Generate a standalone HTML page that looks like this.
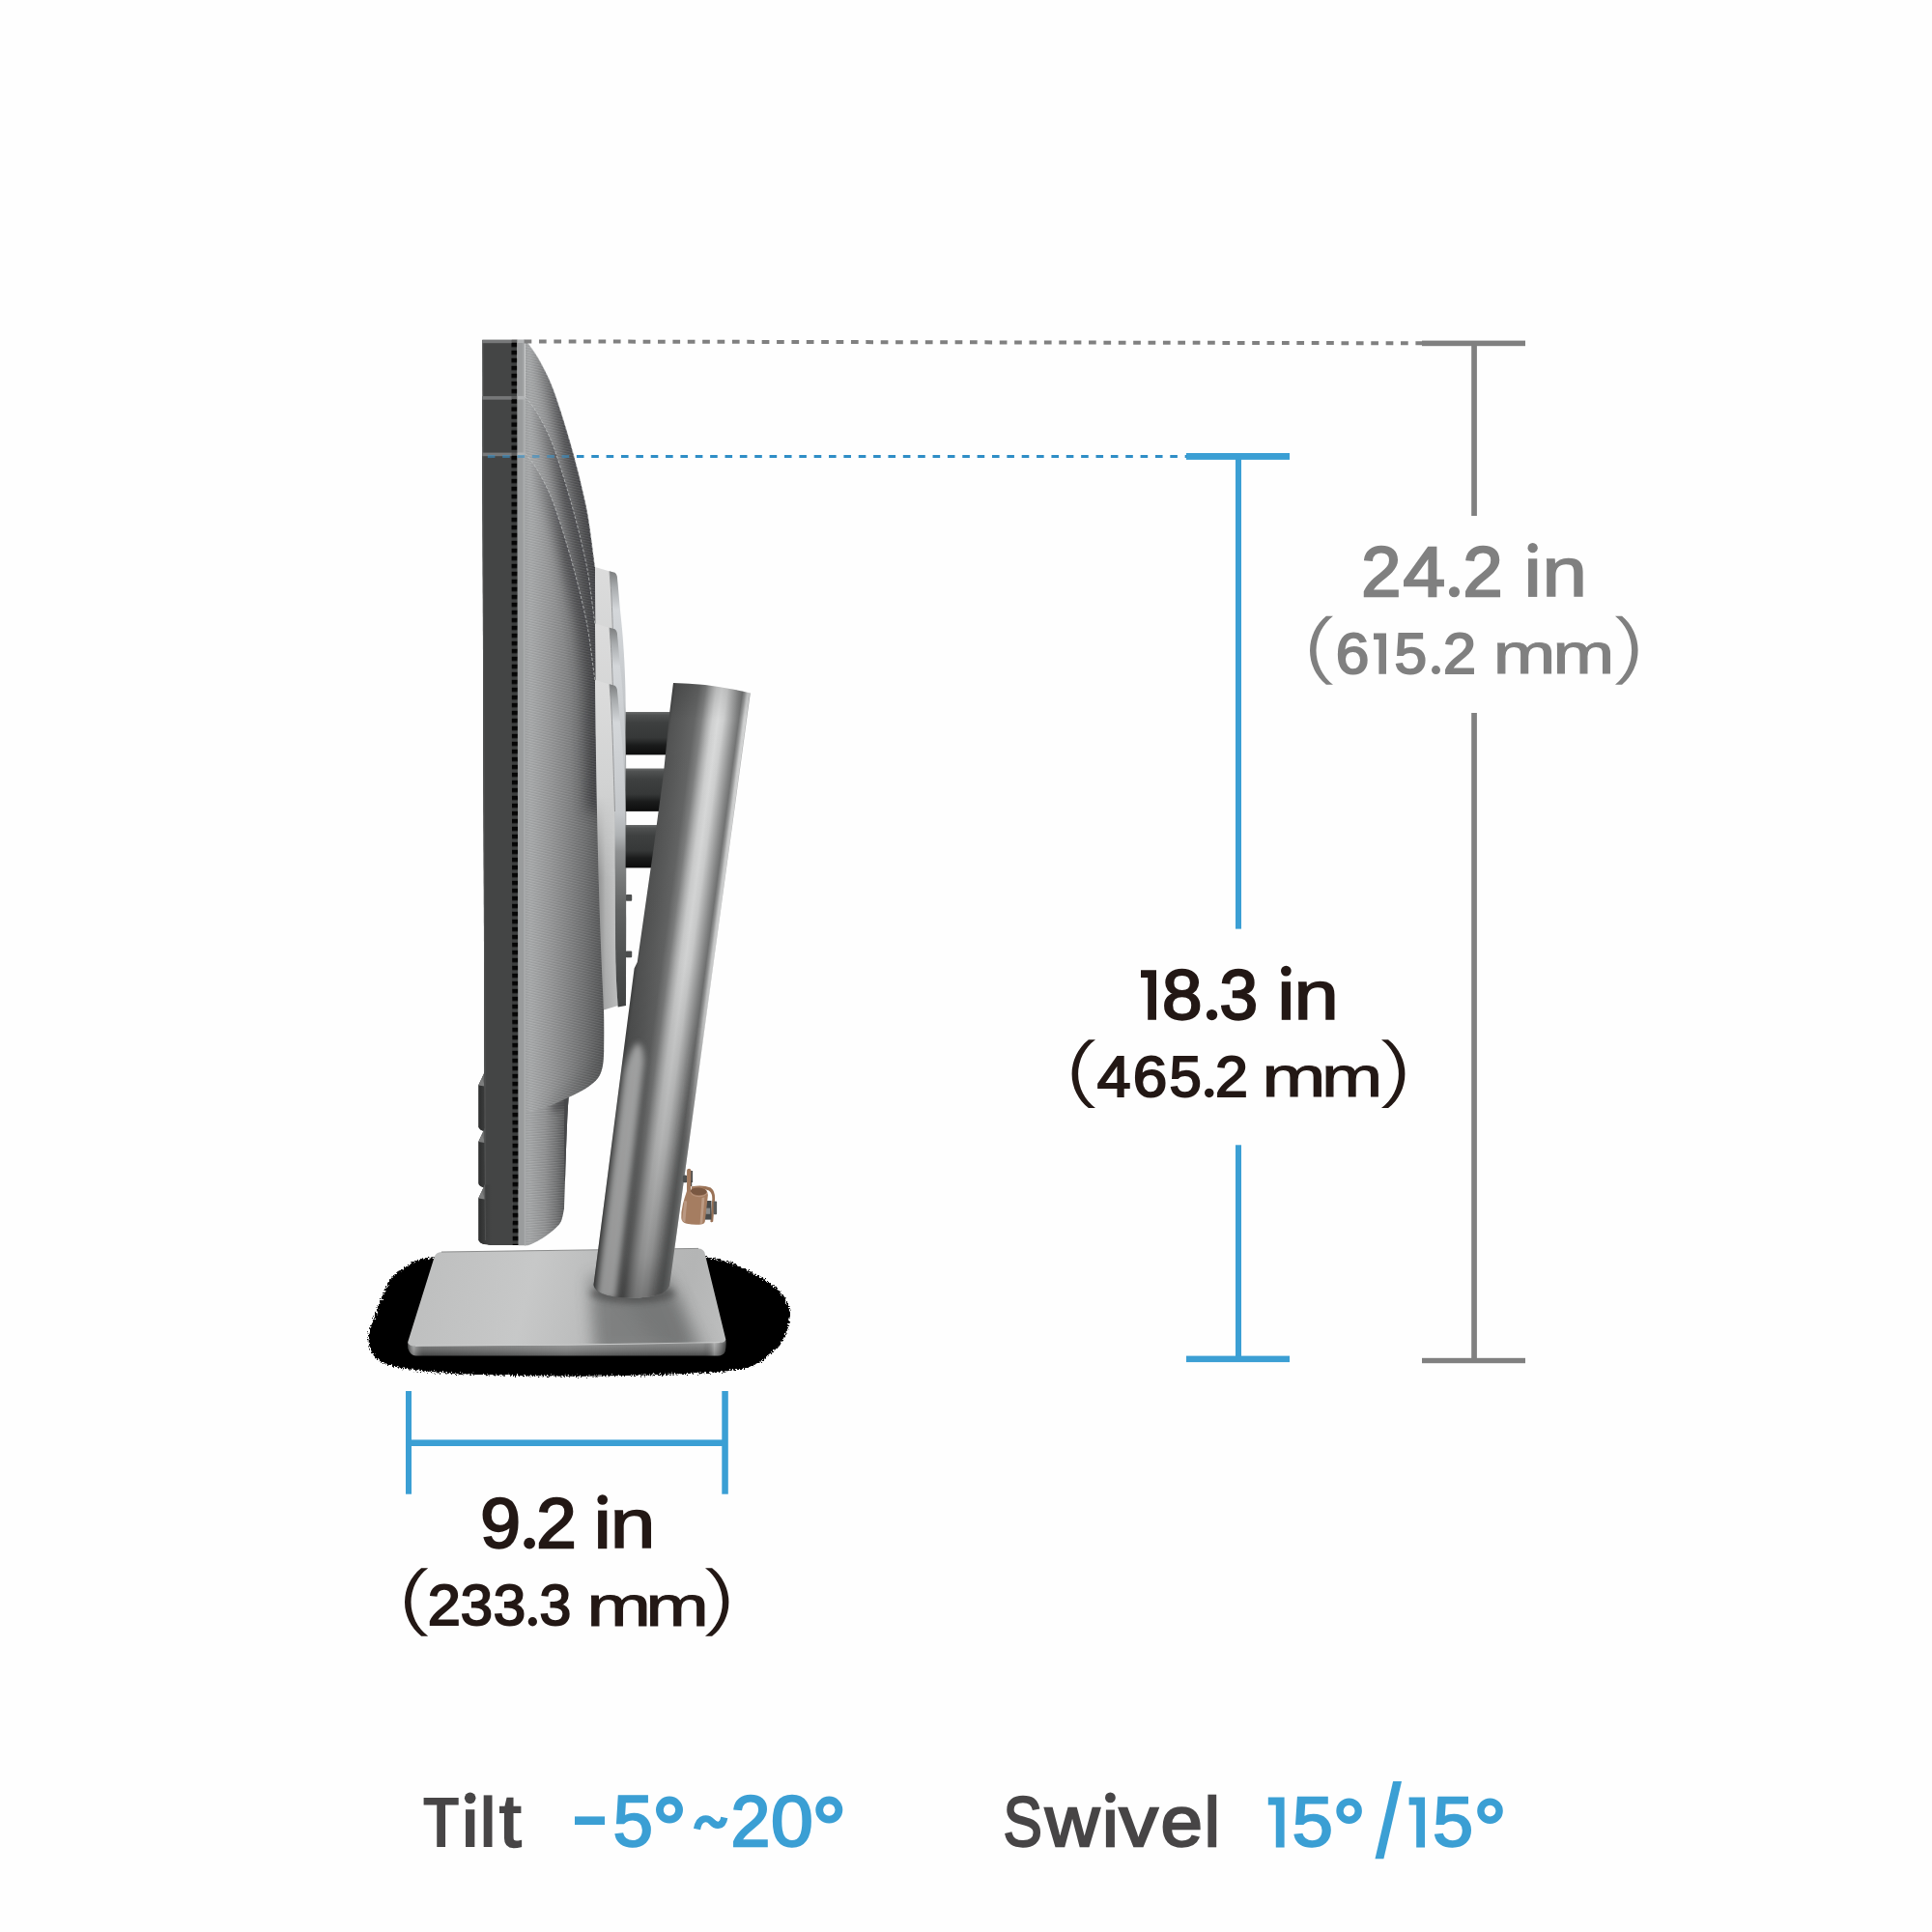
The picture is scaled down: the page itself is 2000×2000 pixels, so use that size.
<!DOCTYPE html>
<html><head><meta charset="utf-8">
<style>
html,body{margin:0;padding:0;background:#fefefe;}
body{width:2000px;height:2000px;overflow:hidden;font-family:"Liberation Sans",sans-serif;}
svg{display:block;position:absolute;left:0;top:0;}
text{font-family:"Liberation Sans",sans-serif;}
</style></head>
<body>
<svg width="2000" height="2000" viewBox="0 0 2000 2000">
<defs>
<!--DEFS_START-->

<linearGradient id="gBody" gradientUnits="userSpaceOnUse" x1="544" y1="0" x2="626" y2="0">
 <stop offset="0" stop-color="#a2a4a5"/><stop offset="0.06" stop-color="#a7a9aa"/><stop offset="0.3" stop-color="#969798"/><stop offset="0.55" stop-color="#808182"/><stop offset="0.75" stop-color="#6d6e6f"/><stop offset="0.9" stop-color="#5c5d5e"/><stop offset="1" stop-color="#505152"/>
</linearGradient>
<linearGradient id="gCovLH" gradientUnits="userSpaceOnUse" x1="616" y1="0" x2="640" y2="0">
 <stop offset="0" stop-color="#000" stop-opacity="0.34"/><stop offset="0.45" stop-color="#000" stop-opacity="0.08"/><stop offset="1" stop-color="#fff" stop-opacity="0.08"/>
</linearGradient>
<linearGradient id="gCovMaskV" gradientUnits="userSpaceOnUse" x1="0" y1="704" x2="0" y2="1046">
 <stop offset="0" stop-color="#000"/><stop offset="0.35" stop-color="#000"/><stop offset="0.6" stop-color="#000" stop-opacity="0"/><stop offset="1" stop-color="#000" stop-opacity="0"/>
</linearGradient>
<linearGradient id="gCovLV" gradientUnits="userSpaceOnUse" x1="0" y1="704" x2="0" y2="1046">
 <stop offset="0" stop-color="#fff" stop-opacity="1"/><stop offset="0.35" stop-color="#fff" stop-opacity="0.9"/><stop offset="0.55" stop-color="#fff" stop-opacity="0"/><stop offset="1" stop-color="#fff" stop-opacity="0"/>
</linearGradient>
<linearGradient id="gNeckF" gradientUnits="userSpaceOnUse" x1="544" y1="0" x2="589" y2="0">
 <stop offset="0" stop-color="#a2a4a5"/><stop offset="0.1" stop-color="#a4a6a7"/><stop offset="0.45" stop-color="#909192"/><stop offset="0.7" stop-color="#747576"/><stop offset="0.9" stop-color="#565758"/><stop offset="1" stop-color="#464748"/>
</linearGradient>
<pattern id="pTex2" patternUnits="userSpaceOnUse" width="8" height="2.6" patternTransform="rotate(-4)">
 <rect width="8" height="1.1" y="0" fill="#fff" opacity="0.09"/><rect width="8" height="1.1" y="1.4" fill="#000" opacity="0.06"/>
</pattern>
<linearGradient id="gNeck" gradientUnits="userSpaceOnUse" x1="544" y1="0" x2="589" y2="0">
 <stop offset="0" stop-color="#a0a2a3" stop-opacity="0"/><stop offset="0.45" stop-color="#8e8f90" stop-opacity="0.3"/><stop offset="0.8" stop-color="#6a6b6c" stop-opacity="0.9"/><stop offset="1" stop-color="#505152"/>
</linearGradient>
<pattern id="pTex" patternUnits="userSpaceOnUse" width="8" height="2.6" patternTransform="rotate(13)">
 <rect width="8" height="1.1" y="0" fill="#fff" opacity="0.09"/><rect width="8" height="1.1" y="1.4" fill="#000" opacity="0.06"/>
</pattern>
<pattern id="pDash" patternUnits="userSpaceOnUse" width="6" height="8">
 <rect width="6" height="8" fill="#050505"/><rect width="6" height="3.6" y="4.2" fill="#3d3f3f"/>
</pattern>
<linearGradient id="gArm" x1="0" y1="0" x2="0" y2="1">
 <stop offset="0" stop-color="#6a6c6c"/><stop offset="0.07" stop-color="#505252"/><stop offset="0.25" stop-color="#3e4040"/><stop offset="0.6" stop-color="#363838"/><stop offset="0.78" stop-color="#1a1b1b"/><stop offset="1" stop-color="#0c0c0c"/>
</linearGradient>
<linearGradient id="gCovL" gradientUnits="userSpaceOnUse" x1="0" y1="704" x2="0" y2="1046">
 <stop offset="0" stop-color="#dcdcdc"/><stop offset="0.3" stop-color="#d2d3d3"/><stop offset="0.6" stop-color="#c4c5c5"/><stop offset="1" stop-color="#b6b7b7"/>
</linearGradient>
<linearGradient id="gCovR" gradientUnits="userSpaceOnUse" x1="0" y1="708" x2="0" y2="1042">
 <stop offset="0" stop-color="#7c7e7f"/><stop offset="0.05" stop-color="#a8abad"/><stop offset="0.12" stop-color="#d4d7da"/><stop offset="0.4" stop-color="#c4c7ca"/><stop offset="0.47" stop-color="#aeb1b3"/><stop offset="0.52" stop-color="#8e9091"/><stop offset="0.6" stop-color="#787a7a"/><stop offset="0.7" stop-color="#606262"/><stop offset="0.89" stop-color="#4a4c4c"/><stop offset="1" stop-color="#404242"/>
</linearGradient>
<linearGradient id="gChin" x1="0" y1="0" x2="1" y2="0">
 <stop offset="0" stop-color="#2c2d2d"/><stop offset="0.5" stop-color="#3c3d3d"/><stop offset="1" stop-color="#444545"/>
</linearGradient>
<filter id="fBlur6" x="-50%" y="-10%" width="200%" height="120%"><feGaussianBlur stdDeviation="7"/></filter>
<filter id="fBlur3" x="-50%" y="-50%" width="200%" height="200%"><feGaussianBlur stdDeviation="3"/></filter>
<mask id="mCovLow" maskUnits="userSpaceOnUse" x="600" y="700" width="60" height="360"><rect x="600" y="700" width="60" height="360" fill="#fff"/><rect x="600" y="700" width="60" height="360" fill="#000" opacity="1" style="fill:url(#gCovMaskV)"/></mask>
<linearGradient id="gEdgeM" gradientUnits="userSpaceOnUse" x1="548" y1="0" x2="584" y2="0"><stop offset="0" stop-color="#fff" stop-opacity="0"/><stop offset="1" stop-color="#fff" stop-opacity="1"/></linearGradient>
<mask id="mEdge" maskUnits="userSpaceOnUse" x="500" y="300" width="200" height="1100"><rect x="500" y="300" width="200" height="1100" fill="url(#gEdgeM)"/></mask>
<clipPath id="cBody"><path d="M543.5,469.6 C543.9,470.0 543.8,468.9 546.0,471.8 C548.2,474.7 553.1,481.2 556.6,487.0 C560.1,492.8 564.3,501.0 567.0,506.7 C569.7,512.4 570.9,515.5 573.0,521.0 C575.1,526.5 576.9,532.2 579.4,539.8 C581.9,547.4 585.3,558.6 587.7,566.7 C590.1,574.8 591.9,581.0 593.9,588.5 C595.9,596.0 598.0,603.8 600.0,612.0 C602.0,620.2 604.4,630.5 606.0,638.0 C607.6,645.5 608.5,650.5 609.5,657.0 C610.5,663.5 611.2,669.2 612.3,677.0 C613.3,684.8 615.2,699.5 615.8,704.0 L616,704 C616.1,715.0 616.5,747.3 616.8,770.0 C617.1,792.7 617.5,815.0 618.0,840.0 C618.5,865.0 619.3,895.2 620.0,920.0 C620.7,944.8 621.6,968.2 622.4,989.0 C623.2,1009.8 624.5,1028.5 625.0,1045.0 C625.5,1061.5 625.2,1080.8 625.2,1088.0 C625.0,1090.5 625.0,1098.3 624.0,1103.0 C623.0,1107.7 622.0,1112.0 619.0,1116.0 C616.0,1120.0 611.0,1123.7 606.0,1127.0 C601.0,1130.3 594.7,1133.0 589.0,1135.8 C583.3,1138.5 577.5,1141.3 572.0,1143.5 C566.5,1145.7 560.8,1147.7 556.0,1149.0 C551.2,1150.3 545.6,1151.1 543.5,1151.5 Z"/></clipPath>
<clipPath id="cNeck"><path d="M543.5,1120 L588.8,1120 L588.6,1136 C588.3,1140.8 587.6,1151.8 587.0,1165.0 C586.4,1178.2 585.7,1200.7 585.2,1215.0 C584.7,1229.3 584.2,1245.0 584.0,1251.0 C583.5,1253.2 582.5,1260.6 581.0,1264.0 C579.5,1267.4 577.3,1269.2 575.0,1271.5 C572.7,1273.8 570.0,1275.8 567.0,1278.0 C564.0,1280.2 560.2,1282.7 557.0,1284.5 C553.8,1286.3 550.1,1287.9 548.0,1288.7 C545.9,1289.5 544.9,1289.1 544.3,1289.2 L543.5,1289.2 Z"/></clipPath>
<g id="mon">
 <!-- neck -->
 <path d="M543.5,1120 L588.8,1120 L588.6,1136 C588.3,1140.8 587.6,1151.8 587.0,1165.0 C586.4,1178.2 585.7,1200.7 585.2,1215.0 C584.7,1229.3 584.2,1245.0 584.0,1251.0 C583.5,1253.2 582.5,1260.6 581.0,1264.0 C579.5,1267.4 577.3,1269.2 575.0,1271.5 C572.7,1273.8 570.0,1275.8 567.0,1278.0 C564.0,1280.2 560.2,1282.7 557.0,1284.5 C553.8,1286.3 550.1,1287.9 548.0,1288.7 C545.9,1289.5 544.9,1289.1 544.3,1289.2 L543.5,1289.2 Z" fill="url(#gNeckF)"/>
 <g clip-path="url(#cNeck)">
  <path d="M543.5,1120 L588.8,1120 L588.6,1136 C588.3,1140.8 587.6,1151.8 587.0,1165.0 C586.4,1178.2 585.7,1200.7 585.2,1215.0 C584.7,1229.3 584.2,1245.0 584.0,1251.0 C583.5,1253.2 582.5,1260.6 581.0,1264.0 C579.5,1267.4 577.3,1269.2 575.0,1271.5 C572.7,1273.8 570.0,1275.8 567.0,1278.0 C564.0,1280.2 560.2,1282.7 557.0,1284.5 C553.8,1286.3 550.1,1287.9 548.0,1288.7 C545.9,1289.5 544.9,1289.1 544.3,1289.2 L543.5,1289.2 Z" fill="url(#pTex2)"/>
  <path d="M606,1131 C603.2,1132.5 594.7,1137.0 589.0,1139.8 C583.3,1142.5 574.8,1146.2 572.0,1147.5" fill="none" stroke="#38393a" stroke-width="9" opacity="0.5" filter="url(#fBlur3)"/>
  <path d="M589.2,1136 L588,1165 L586.2,1222 L584.4,1222 L584,1165 L584.4,1136 Z" fill="#47484a"/>
 </g>
 <!-- back body -->
 <path d="M543.5,469.6 C543.9,470.0 543.8,468.9 546.0,471.8 C548.2,474.7 553.1,481.2 556.6,487.0 C560.1,492.8 564.3,501.0 567.0,506.7 C569.7,512.4 570.9,515.5 573.0,521.0 C575.1,526.5 576.9,532.2 579.4,539.8 C581.9,547.4 585.3,558.6 587.7,566.7 C590.1,574.8 591.9,581.0 593.9,588.5 C595.9,596.0 598.0,603.8 600.0,612.0 C602.0,620.2 604.4,630.5 606.0,638.0 C607.6,645.5 608.5,650.5 609.5,657.0 C610.5,663.5 611.2,669.2 612.3,677.0 C613.3,684.8 615.2,699.5 615.8,704.0 L616,704 C616.1,715.0 616.5,747.3 616.8,770.0 C617.1,792.7 617.5,815.0 618.0,840.0 C618.5,865.0 619.3,895.2 620.0,920.0 C620.7,944.8 621.6,968.2 622.4,989.0 C623.2,1009.8 624.5,1028.5 625.0,1045.0 C625.5,1061.5 625.2,1080.8 625.2,1088.0 C625.0,1090.5 625.0,1098.3 624.0,1103.0 C623.0,1107.7 622.0,1112.0 619.0,1116.0 C616.0,1120.0 611.0,1123.7 606.0,1127.0 C601.0,1130.3 594.7,1133.0 589.0,1135.8 C583.3,1138.5 577.5,1141.3 572.0,1143.5 C566.5,1145.7 560.8,1147.7 556.0,1149.0 C551.2,1150.3 545.6,1151.1 543.5,1151.5 Z" fill="url(#gBody)"/>
 <g clip-path="url(#cBody)">
  <g mask="url(#mEdge)"><path d="M543.5,469.6 C543.9,470.0 543.8,468.9 546.0,471.8 C548.2,474.7 553.1,481.2 556.6,487.0 C560.1,492.8 564.3,501.0 567.0,506.7 C569.7,512.4 570.9,515.5 573.0,521.0 C575.1,526.5 576.9,532.2 579.4,539.8 C581.9,547.4 585.3,558.6 587.7,566.7 C590.1,574.8 591.9,581.0 593.9,588.5 C595.9,596.0 598.0,603.8 600.0,612.0 C602.0,620.2 604.4,630.5 606.0,638.0 C607.6,645.5 608.5,650.5 609.5,657.0 C610.5,663.5 611.2,669.2 612.3,677.0 C613.3,684.8 615.2,699.5 615.8,704.0 L616,704 L618,840" fill="none" stroke="#353637" stroke-width="22" opacity="0.72" filter="url(#fBlur6)"/></g>
  <path d="M628,1088 L628,1150 L560,1150 Z" fill="#4a4b4c" opacity="0.25" filter="url(#fBlur6)"/>
  <path d="M543.5,469.6 C543.9,470.0 543.8,468.9 546.0,471.8 C548.2,474.7 553.1,481.2 556.6,487.0 C560.1,492.8 564.3,501.0 567.0,506.7 C569.7,512.4 570.9,515.5 573.0,521.0 C575.1,526.5 576.9,532.2 579.4,539.8 C581.9,547.4 585.3,558.6 587.7,566.7 C590.1,574.8 591.9,581.0 593.9,588.5 C595.9,596.0 598.0,603.8 600.0,612.0 C602.0,620.2 604.4,630.5 606.0,638.0 C607.6,645.5 608.5,650.5 609.5,657.0 C610.5,663.5 611.2,669.2 612.3,677.0 C613.3,684.8 615.2,699.5 615.8,704.0 L616,704 C616.1,715.0 616.5,747.3 616.8,770.0 C617.1,792.7 617.5,815.0 618.0,840.0 C618.5,865.0 619.3,895.2 620.0,920.0 C620.7,944.8 621.6,968.2 622.4,989.0 C623.2,1009.8 624.5,1028.5 625.0,1045.0 C625.5,1061.5 625.2,1080.8 625.2,1088.0 C625.0,1090.5 625.0,1098.3 624.0,1103.0 C623.0,1107.7 622.0,1112.0 619.0,1116.0 C616.0,1120.0 611.0,1123.7 606.0,1127.0 C601.0,1130.3 594.7,1133.0 589.0,1135.8 C583.3,1138.5 577.5,1141.3 572.0,1143.5 C566.5,1145.7 560.8,1147.7 556.0,1149.0 C551.2,1150.3 545.6,1151.1 543.5,1151.5 Z" fill="url(#pTex)"/>
 </g>
 <!-- thin light outline of curve -->
 <path d="M543.5,469.6 C543.9,470.0 543.8,468.9 546.0,471.8 C548.2,474.7 553.1,481.2 556.6,487.0 C560.1,492.8 564.3,501.0 567.0,506.7 C569.7,512.4 570.9,515.5 573.0,521.0 C575.1,526.5 576.9,532.2 579.4,539.8 C581.9,547.4 585.3,558.6 587.7,566.7 C590.1,574.8 591.9,581.0 593.9,588.5 C595.9,596.0 598.0,603.8 600.0,612.0 C602.0,620.2 604.4,630.5 606.0,638.0 C607.6,645.5 608.5,650.5 609.5,657.0 C610.5,663.5 611.2,669.2 612.3,677.0 C613.3,684.8 615.2,699.5 615.8,704.0" fill="none" stroke="#c9cccd" stroke-width="0.9" stroke-dasharray="3 2" opacity="0.75"/>
 <!-- hinge cover -->
 <path d="M616,704 L629.7,708 L631,708.6 C631.4,713.8 632.5,726.4 633.2,740.0 C633.9,753.6 634.5,773.3 635.0,790.0 C635.5,806.7 636.2,820.7 636.5,840.0 C636.8,859.3 636.6,879.3 636.8,906.0 C637.0,932.7 637.0,977.5 637.5,1000.0 C638.0,1022.5 639.3,1034.2 639.7,1041.0 L625,1045.5 C624.6,1036.1 623.2,1009.9 622.4,989.0 C621.6,968.1 620.7,944.8 620.0,920.0 C619.3,895.2 618.5,865.0 618.0,840.0 C617.5,815.0 617.1,792.7 616.8,770.0 C616.5,747.3 616.1,715.0 616.0,704.0 Z" fill="url(#gCovL)"/>
 <path d="M616,704 L629.7,708 L631,708.6 C631.4,713.8 632.5,726.4 633.2,740.0 C633.9,753.6 634.5,773.3 635.0,790.0 C635.5,806.7 636.2,820.7 636.5,840.0 C636.8,859.3 636.6,879.3 636.8,906.0 C637.0,932.7 637.0,977.5 637.5,1000.0 C638.0,1022.5 639.3,1034.2 639.7,1041.0 L625,1045.5 C624.6,1036.1 623.2,1009.9 622.4,989.0 C621.6,968.1 620.7,944.8 620.0,920.0 C619.3,895.2 618.5,865.0 618.0,840.0 C617.5,815.0 617.1,792.7 616.8,770.0 C616.5,747.3 616.1,715.0 616.0,704.0 Z" fill="url(#gCovLH)" mask="url(#mCovLow)"/>
 <path d="M630,708 L636.5,709.8 C636.9,710.3 638.1,711.2 638.6,713.0 C639.1,714.8 638.9,714.6 639.5,720.5 C640.1,726.4 641.1,739.1 642.0,748.4 C642.9,757.7 643.9,765.9 644.7,776.4 C645.5,786.9 646.3,798.8 646.8,811.6 C647.3,824.4 647.6,829.9 647.8,853.0 C648.0,876.1 648.2,918.7 648.2,950.0 C648.2,981.3 648.0,1025.8 648.0,1041.0 L639.7,1042.6 C639.3,1034.2 638.0,1022.5 637.5,1000.0 C637.0,977.5 637.0,932.7 636.8,906.0 C636.6,879.3 636.8,859.3 636.5,840.0 C636.2,820.7 635.5,806.7 635.0,790.0 C634.5,773.3 633.9,753.6 633.2,740.0 C632.5,726.4 631.4,713.8 631.0,708.6 Z" fill="url(#gCovR)"/>
 <path d="M631,708.6 C631.4,713.8 632.5,726.4 633.2,740.0 C633.9,753.6 634.5,773.3 635.0,790.0 C635.5,806.7 636.2,831.7 636.5,840.0" fill="none" stroke="#8a8c8d" stroke-width="0.8"/>
 <!-- screw -->
 <rect x="647.8" y="984.6" width="6.4" height="6.6" rx="1" fill="#4c4e4e"/>
 <!-- arm -->
 <rect x="647.6" y="854" width="60" height="44.4" fill="url(#gArm)"/>
 <!-- front panel -->
 <g>
  <path d="M499.3,469 H530 L531,1289 H507.5 Q502.3,1288.5 502,1283 Z" fill="#444545"/>
  <path d="M499.9,469 L502.6,1284" stroke="#525353" stroke-width="1.1" fill="none"/>
  <g transform="translate(-1.95,0) skewX(0.0917)">
  <rect x="530.6" y="469" width="6.1" height="820" fill="url(#pDash)"/>
  <rect x="536.6" y="469" width="7.6" height="820.2" fill="#9a9c9d"/>
  <rect x="542.6" y="469" width="1.7" height="820.2" fill="#a9abac"/>
  <rect x="530.8" y="468.6" width="6" height="3" fill="#5c5d5d"/>
  <rect x="536.6" y="468.6" width="7.7" height="3.4" fill="#b2b4b5"/>
  </g>
  <rect x="499.3" y="468.6" width="30.4" height="3.6" fill="#777879"/>
  <!-- chin -->
  <path d="M501.9,1226.4 L495.2,1240.5 L495.2,1283.5 Q496,1286.5 501,1288 L509,1289 L509,1226.4 Z" fill="url(#gChin)"/>
  <path d="M501.9,1226.4 L495.2,1240.5 L501.9,1241.5 Z" fill="#7c7d7d"/>
  <path d="M501.9,1226.4 L498.9,1233 L501.9,1241.5 Z" fill="#6a6b6b"/>
  <path d="M501.9,1226.4 L502.6,1284" stroke="#505151" stroke-width="1" fill="none"/>
 </g>
</g>


<linearGradient id="gPole" gradientUnits="userSpaceOnUse" x1="657.8" y1="1000.0" x2="737.6" y2="1010.7">
 <stop offset="0" stop-color="#454646"/><stop offset="0.04" stop-color="#525353"/><stop offset="0.2" stop-color="#5b5c5c"/><stop offset="0.33" stop-color="#646565"/><stop offset="0.42" stop-color="#7e7f7f"/><stop offset="0.5" stop-color="#b0b1b1"/><stop offset="0.56" stop-color="#cecfcf"/><stop offset="0.63" stop-color="#d9dada"/><stop offset="0.7" stop-color="#cecfcf"/><stop offset="0.78" stop-color="#a8a9a9"/><stop offset="0.85" stop-color="#868787"/><stop offset="0.895" stop-color="#737474"/><stop offset="0.93" stop-color="#9a9b9b"/><stop offset="0.96" stop-color="#cbcccc"/><stop offset="0.985" stop-color="#d4d5d5"/><stop offset="1" stop-color="#a0a1a1"/>
</linearGradient>
<linearGradient id="gPoleV" gradientUnits="userSpaceOnUse" x1="0" y1="707" x2="0" y2="1344">
 <stop offset="0" stop-color="#000" stop-opacity="0.12"/><stop offset="0.06" stop-color="#000" stop-opacity="0"/><stop offset="0.45" stop-color="#000" stop-opacity="0.04"/><stop offset="0.75" stop-color="#000" stop-opacity="0.18"/><stop offset="0.93" stop-color="#000" stop-opacity="0.32"/><stop offset="1" stop-color="#000" stop-opacity="0.45"/>
</linearGradient>
<linearGradient id="gPoleRE" gradientUnits="userSpaceOnUse" x1="0" y1="1060" x2="0" y2="1180">
 <stop offset="0" stop-color="#505151" stop-opacity="0"/><stop offset="1" stop-color="#505151" stop-opacity="0.75"/>
</linearGradient>
<linearGradient id="gBaseTop" gradientUnits="userSpaceOnUse" x1="440" y1="1300" x2="750" y2="1380">
 <stop offset="0" stop-color="#bebfbf"/><stop offset="0.35" stop-color="#c7c8c8"/><stop offset="0.6" stop-color="#b9baba"/><stop offset="0.85" stop-color="#b4b5b5"/><stop offset="1" stop-color="#bcbdbd"/>
</linearGradient>
<linearGradient id="gBaseFront" gradientUnits="userSpaceOnUse" x1="0" y1="1389" x2="0" y2="1404">
 <stop offset="0" stop-color="#b0b1b1"/><stop offset="0.15" stop-color="#8c8d8d"/><stop offset="0.6" stop-color="#707171"/><stop offset="1" stop-color="#4a4b4b"/>
</linearGradient>
<linearGradient id="gBaseFrontH" gradientUnits="userSpaceOnUse" x1="422" y1="0" x2="751" y2="0">
 <stop offset="0" stop-color="#000" stop-opacity="0.55"/><stop offset="0.02" stop-color="#fff" stop-opacity="0.25"/><stop offset="0.05" stop-color="#000" stop-opacity="0.1"/><stop offset="0.5" stop-color="#fff" stop-opacity="0.12"/><stop offset="0.93" stop-color="#000" stop-opacity="0"/><stop offset="0.965" stop-color="#fff" stop-opacity="0.3"/><stop offset="1" stop-color="#000" stop-opacity="0.45"/>
</linearGradient>
<filter id="fRough" x="-5%" y="-10%" width="110%" height="120%">
 <feTurbulence type="fractalNoise" baseFrequency="0.6" numOctaves="2" seed="4" result="n"/>
 <feDisplacementMap in="SourceGraphic" in2="n" scale="7" xChannelSelector="R" yChannelSelector="G"/>
</filter>
<filter id="fBlur8" x="-30%" y="-30%" width="160%" height="160%"><feGaussianBlur stdDeviation="8"/></filter>
<clipPath id="cBaseTop"><path d="M449.5,1301.7 Q451,1296.2 457,1296 L723,1292.4 Q728,1292.6 729.4,1296.5 L751.2,1386 L751.2,1391 L422,1391 L422,1389 Z"/></clipPath>
<clipPath id="cPole"><path d="M697,707 Q735,707.5 776.8,717.4 L693.2,1330 C692.2,1339 675,1343.8 653,1343.6 C631,1343.4 616,1339 614.5,1330 L656.6,1002.6 L659.75,996 L676.3,880 L687,800 L693.2,737.6 Z"/></clipPath>
<!--DEFS_END-->
</defs>
<rect width="2000" height="2000" fill="#fefefe"/>
<!--SHADOW_START-->
<g id="shadow" filter="url(#fRough)"><path d="M449.5,1302 C446.6,1302.5 437.0,1303.1 432.0,1304.8 C427.0,1306.5 424.2,1308.9 419.7,1312.0 C415.2,1315.1 408.9,1318.1 404.8,1323.5 C400.7,1328.9 397.9,1337.3 394.8,1344.6 C391.7,1351.8 388.2,1360.6 386.0,1367.0 C383.8,1373.4 381.7,1377.4 381.5,1383.0 C381.3,1388.6 382.1,1395.7 385.0,1400.5 C387.9,1405.3 390.8,1408.7 398.6,1411.7 C406.4,1414.7 416.1,1416.6 432.0,1418.5 C447.9,1420.4 465.0,1422.0 494.0,1423.0 C523.0,1424.0 567.7,1424.9 606.0,1424.7 C644.3,1424.5 696.0,1423.1 724.0,1421.6 C752.0,1420.0 762.0,1418.5 774.0,1415.4 C786.0,1412.3 790.0,1407.6 796.0,1403.0 C802.0,1398.4 806.7,1393.0 810.0,1388.0 C813.3,1383.0 814.8,1378.2 816.0,1373.0 C817.2,1367.8 818.2,1362.2 817.4,1357.0 C816.6,1351.8 814.1,1346.5 811.0,1342.0 C807.9,1337.5 804.0,1333.6 798.8,1329.7 C793.6,1325.8 787.2,1322.3 780.0,1318.5 C772.8,1314.7 763.7,1309.6 755.3,1306.7 C746.9,1303.8 734.0,1302.0 729.8,1301.0 Z" fill="#000"/></g>
<!--SHADOW_END-->
<!--BASE_START-->
<g id="base">
<path d="M422,1389.5 Q421.6,1396 424,1399.5 Q426.5,1403.4 431,1403.6 L743,1403.6 Q749,1403.4 750.6,1399 Q751.8,1395 751.2,1386 Z" fill="url(#gBaseFront)"/>
<path d="M422,1389.5 Q421.6,1396 424,1399.5 Q426.5,1403.4 431,1403.6 L743,1403.6 Q749,1403.4 750.6,1399 Q751.8,1395 751.2,1386 Z" fill="url(#gBaseFrontH)"/>
<path d="M449.5,1301.7 Q451,1296.2 457,1296 L723,1292.4 Q728,1292.6 729.4,1296.5 L751.2,1386 Q751.4,1389.6 745,1390 L590,1392.6 L430,1393.6 Q422.5,1393.4 422.2,1389.3 Z" fill="url(#gBaseTop)"/>
<g clip-path="url(#cBaseTop)">
 <path d="M610,1322 L692,1320 L724,1402 L616,1402 Z" fill="#4c4d4d" opacity="0.52" filter="url(#fBlur8)"/>
 <path d="M640,1340 L700,1336 L740,1402 L690,1402 Z" fill="#5a5b5b" opacity="0.18" filter="url(#fBlur8)"/>
 <ellipse cx="655" cy="1339" rx="44" ry="10" fill="#303131" opacity="0.45" filter="url(#fBlur3)"/>
</g>
<path d="M430,1393.2 L590,1392.2 L745,1389.6" fill="none" stroke="#d0d1d1" stroke-width="1" opacity="0.8"/>
<path d="M457,1296 L723,1292.4" fill="none" stroke="#8c8d8d" stroke-width="1"/>
</g>
<!--BASE_END-->
<!--MONITOR_START-->
<g id="monitor">
<use href="#mon" transform="translate(0,-117)"/>
<use href="#mon" transform="translate(0,-58.5)"/>
<use href="#mon"/>
</g>
<!--MONITOR_END-->
<!--POLE_START-->
<g id="pole">
<path d="M697,707 Q735,707.5 776.8,717.4 L693.2,1330 C692.2,1339 675,1343.8 653,1343.6 C631,1343.4 616,1339 614.5,1330 L656.6,1002.6 L659.75,996 L676.3,880 L687,800 L693.2,737.6 Z" fill="url(#gPole)"/>
<path d="M697,707 Q735,707.5 776.8,717.4 L693.2,1330 C692.2,1339 675,1343.8 653,1343.6 C631,1343.4 616,1339 614.5,1330 L656.6,1002.6 L659.75,996 L676.3,880 L687,800 L693.2,737.6 Z" fill="url(#gPoleV)"/>
<g clip-path="url(#cPole)">
 <path d="M659.9,1079 Q666.7,1083 666.5,1100 L637.8,1345 L616.8,1345 L646.0,1112 Q650.7,1088 659.9,1079 Z" fill="#d0d1d1" opacity="0.62" filter="url(#fBlur3)"/>
</g>
 <g clip-path="url(#cPole)"><path d="M738.8,930 L749.8,930 L693.1,1345 L681.1,1345 Z" fill="url(#gPoleRE)" filter="url(#fBlur3)"/></g>
<g id="clip">
 <rect x="706.8" y="1216.4" width="4.6" height="7.8" rx="1.5" fill="#4e5050"/>
 <rect x="715" y="1212" width="2.1" height="12" fill="#505252"/>
 <rect x="714.6" y="1222" width="1.6" height="6" fill="#3c3e3e"/>
 <path d="M711.1,1211.4 Q711.2,1209.8 713.2,1209.8 Q715.2,1209.8 715.3,1211.4 L715.2,1236 L711,1236 Z" fill="#a27a5e"/>
 <!-- hook -->
 <path d="M716,1228.2 Q728,1226.2 735.8,1229.6 Q740.4,1233.4 740.1,1241 L738.2,1264.6 Q737,1266 735.4,1264.8 L737.3,1241 Q737.6,1235 733.8,1232.4 Q728,1229.4 717,1231 Z" fill="#9a7256"/>
 <!-- screws -->
 <rect x="729.6" y="1243" width="6.9" height="19.6" fill="#484a4a"/>
 <rect x="730.6" y="1250.6" width="4.6" height="6.2" fill="#8a8c8c"/>
 <rect x="738.6" y="1243.4" width="3.5" height="13.8" rx="1" fill="#5a5c5c"/>
 <!-- cylinder -->
 <path d="M711,1233 Q708.6,1240 707,1246 L705.4,1255 L705.3,1261 Q705.6,1265.4 711,1266.8 Q720,1268.4 727,1267.2 Q729.6,1266.6 729.8,1264.6 L732.9,1237 Q732.6,1231.5 727,1229 Q721,1227 716.2,1228.6 L715.2,1234 Z" fill="#a57d61"/>
 <path d="M708.4,1243 L711.2,1243.4 L709.3,1265.4 L706.2,1263.6 Z" fill="#c2a28e" opacity="0.75"/>
 <path d="M726.6,1240 L729.4,1239.6 L727.2,1266.6 L724.6,1266.9 Z" fill="#c4a590" opacity="0.75"/>
 <ellipse cx="723.2" cy="1233.4" rx="8.4" ry="3.9" fill="#7a5842" transform="rotate(4 723.2 1233.4)"/>
 <path d="M715.2,1234.4 Q717,1238.6 724,1238.6 Q730.6,1238.2 732,1234.6" fill="none" stroke="#b8957e" stroke-width="1.1" opacity="0.9"/>
</g>
</g>
<!--POLE_END-->
<g id="lines">
<!-- gray dashed -->
<line x1="542.6" y1="353.4" x2="1472" y2="355.3" stroke="#808080" stroke-width="4" stroke-dasharray="7.7 7.68"/>
<!-- gray T top -->
<rect x="1472" y="352.6" width="107" height="5.6" fill="#808080"/>
<rect x="1523.2" y="355" width="5.7" height="179" fill="#808080"/>
<rect x="1523.2" y="738" width="5.7" height="670" fill="#808080"/>
<rect x="1472" y="1405.8" width="107" height="5.4" fill="#808080"/>
<!-- blue dashed -->
<line x1="504.8" y1="472.5" x2="596" y2="472.5" stroke="#3a8fc4" stroke-width="3.2" stroke-dasharray="7.6 7.76" opacity="0.6"/><line x1="596" y1="472.5" x2="1228" y2="472.5" stroke="#2f8ec6" stroke-width="3.2" stroke-dasharray="7.6 7.76" stroke-dashoffset="-0.9"/>
<rect x="1228" y="469" width="107" height="6.9" fill="#3b9fd4"/>
<rect x="1279" y="472" width="6" height="489.6" fill="#3b9fd4"/>
<rect x="1279" y="1185.3" width="6" height="222" fill="#3b9fd4"/>
<rect x="1228" y="1403.6" width="107" height="6.5" fill="#3b9fd4"/>
<!-- width H -->
<rect x="420" y="1440" width="6" height="106.7" fill="#3b9fd4"/>
<rect x="747.3" y="1440" width="6.5" height="106.7" fill="#3b9fd4"/>
<rect x="420" y="1490.4" width="333" height="6.6" fill="#3b9fd4"/>
</g>
<!--TEXT_START-->
<g id="text" stroke-linejoin="miter" stroke-miterlimit="3">
<text transform="translate(1409.29,616.75) scale(1.0322,1.0000)" font-size="71.6" fill="#808080" stroke="#808080" stroke-width="2.3">2</text>
<text transform="translate(1452.50,616.75) scale(1.0921,1.0000)" font-size="71.6" fill="#808080" stroke="#808080" stroke-width="2.3">4</text>
<circle cx="1505.45" cy="612.75" r="5.55" fill="#808080"/>
<text transform="translate(1514.49,616.75) scale(1.0322,1.0000)" font-size="71.6" fill="#808080" stroke="#808080" stroke-width="2.3">2</text>
<rect x="1582.05" y="578.30" width="9.20" height="39.60" fill="#808080"/><circle cx="1586.65" cy="567.20" r="5.15" fill="#808080"/>
<text transform="translate(1596.19,617.15) scale(1.1779,1.0000)" font-size="71.6" fill="#808080" stroke="#808080" stroke-width="1.5">n</text>
<text transform="translate(1382.74,696.70) scale(1.0517,1.0000)" font-size="59.2" fill="#808080" stroke="#808080" stroke-width="2.0">6</text>
<path d="M1422.00,655.50 H1435.00 V697.70 H1427.40 V662.10 H1422.00 Z" fill="#808080"/>
<text transform="translate(1443.61,696.70) scale(1.0193,1.0000)" font-size="59.2" fill="#808080" stroke="#808080" stroke-width="2.0">5</text>
<circle cx="1486.50" cy="693.60" r="4.50" fill="#808080"/>
<text transform="translate(1493.97,696.70) scale(1.0333,1.0000)" font-size="59.2" fill="#808080" stroke="#808080" stroke-width="2.0">2</text>
<text transform="translate(1545.39,697.20) scale(1.3195,1.0000)" font-size="59.2" fill="#808080" stroke="#808080" stroke-width="1.0">m</text>
<text transform="translate(1607.25,697.20) scale(1.3007,1.0000)" font-size="59.2" fill="#808080" stroke="#808080" stroke-width="1.0">m</text>
<path d="M1181.00,1004.20 H1197.00 V1055.80 H1188.20 V1012.00 H1181.00 Z" fill="#231815"/>
<text transform="translate(1203.03,1054.65) scale(1.0403,1.0000)" font-size="71.6" fill="#231815" stroke="#231815" stroke-width="2.3">8</text>
<circle cx="1254.55" cy="1050.55" r="5.65" fill="#231815"/>
<text transform="translate(1262.48,1054.65) scale(0.9915,1.0000)" font-size="71.6" fill="#231815" stroke="#231815" stroke-width="2.3">3</text>
<rect x="1326.75" y="1016.20" width="9.20" height="39.60" fill="#231815"/><circle cx="1331.35" cy="1005.10" r="5.35" fill="#231815"/>
<text transform="translate(1339.20,1055.05) scale(1.1748,1.0000)" font-size="71.6" fill="#231815" stroke="#231815" stroke-width="1.5">n</text>
<text transform="translate(1135.65,1134.80) scale(1.0566,1.0000)" font-size="59.2" fill="#231815" stroke="#231815" stroke-width="2.0">4</text>
<text transform="translate(1172.69,1134.80) scale(1.0790,1.0000)" font-size="59.2" fill="#231815" stroke="#231815" stroke-width="2.0">6</text>
<text transform="translate(1210.62,1134.80) scale(1.0093,1.0000)" font-size="59.2" fill="#231815" stroke="#231815" stroke-width="2.0">5</text>
<circle cx="1251.75" cy="1131.45" r="4.75" fill="#231815"/>
<text transform="translate(1257.98,1134.80) scale(1.0299,1.0000)" font-size="59.2" fill="#231815" stroke="#231815" stroke-width="2.0">2</text>
<text transform="translate(1306.30,1135.30) scale(1.3431,1.0000)" font-size="59.2" fill="#231815" stroke="#231815" stroke-width="1.0">m</text>
<text transform="translate(1368.12,1135.30) scale(1.2818,1.0000)" font-size="59.2" fill="#231815" stroke="#231815" stroke-width="1.0">m</text>
<text transform="translate(497.34,1602.05) scale(1.0472,1.0000)" font-size="71.6" fill="#231815" stroke="#231815" stroke-width="2.3">9</text>
<circle cx="548.10" cy="1597.70" r="5.90" fill="#231815"/>
<text transform="translate(555.17,1602.05) scale(1.0408,1.0000)" font-size="71.6" fill="#231815" stroke="#231815" stroke-width="2.3">2</text>
<rect x="619.10" y="1563.60" width="9.20" height="39.60" fill="#231815"/><circle cx="623.70" cy="1552.50" r="5.30" fill="#231815"/>
<text transform="translate(631.56,1602.45) scale(1.1842,1.0000)" font-size="71.6" fill="#231815" stroke="#231815" stroke-width="1.5">n</text>
<text transform="translate(442.87,1682.00) scale(1.0368,1.0000)" font-size="59.2" fill="#231815" stroke="#231815" stroke-width="2.0">2</text>
<text transform="translate(476.77,1682.00) scale(1.0093,1.0000)" font-size="59.2" fill="#231815" stroke="#231815" stroke-width="2.0">3</text>
<text transform="translate(510.76,1682.00) scale(1.0159,1.0000)" font-size="59.2" fill="#231815" stroke="#231815" stroke-width="2.0">3</text>
<circle cx="551.35" cy="1678.75" r="4.65" fill="#231815"/>
<text transform="translate(558.58,1682.00) scale(0.9960,1.0000)" font-size="59.2" fill="#231815" stroke="#231815" stroke-width="2.0">3</text>
<text transform="translate(607.26,1682.50) scale(1.3549,1.0000)" font-size="59.2" fill="#231815" stroke="#231815" stroke-width="1.0">m</text>
<text transform="translate(668.35,1682.50) scale(1.3313,1.0000)" font-size="59.2" fill="#231815" stroke="#231815" stroke-width="1.0">m</text>
<path d="M438.60,1861.00 H474.70 V1868.60 H461.05 V1912.00 H452.25 V1868.60 H438.60 Z" fill="#474546"/>
<rect x="482.05" y="1873.20" width="9.30" height="38.80" fill="#474546"/><circle cx="486.70" cy="1861.35" r="5.80" fill="#474546"/>
<rect x="500.70" y="1858.40" width="8.80" height="53.60" fill="#474546"/>
<text transform="translate(516.90,1910.85) scale(1.0579,1.0000)" font-size="76.612" fill="#474546" stroke="#474546" stroke-width="2.3">t</text>
<text transform="translate(634.79,1910.65) scale(0.9987,1.0000)" font-size="74.0" fill="#3b9fd4" stroke="#3b9fd4" stroke-width="2.3">5</text>
<text transform="translate(756.47,1910.65) scale(0.9925,1.0000)" font-size="74.0" fill="#3b9fd4" stroke="#3b9fd4" stroke-width="2.3">2</text>
<text transform="translate(798.08,1910.65) scale(1.0628,1.0000)" font-size="74.0" fill="#3b9fd4" stroke="#3b9fd4" stroke-width="2.3">0</text>
<text transform="translate(1038.53,1911.15) scale(0.8286,1.0000)" font-size="73.032" fill="#474546" stroke="#474546" stroke-width="2.3">S</text>
<text transform="translate(1082.10,1911.15) scale(1.0447,1.0000)" font-size="74.464" fill="#474546" stroke="#474546" stroke-width="2.3">w</text>
<rect x="1144.90" y="1873.50" width="9.00" height="38.80" fill="#474546"/><circle cx="1149.40" cy="1860.90" r="5.40" fill="#474546"/>
<text transform="translate(1158.54,1911.15) scale(1.0828,1.0000)" font-size="74.464" fill="#474546" stroke="#474546" stroke-width="2.3">v</text>
<text transform="translate(1201.39,1911.15) scale(1.0483,1.0000)" font-size="74.464" fill="#474546" stroke="#474546" stroke-width="2.3">e</text>
<rect x="1250.40" y="1857.70" width="8.80" height="54.60" fill="#474546"/>
<path d="M1312.80,1860.60 H1329.60 V1912.60 H1320.80 V1868.40 H1312.80 Z" fill="#3b9fd4"/>
<text transform="translate(1337.87,1911.15) scale(1.0358,1.0000)" font-size="73.0" fill="#3b9fd4" stroke="#3b9fd4" stroke-width="2.3">5</text>
<path d="M1458.60,1860.60 H1475.00 V1912.60 H1466.20 V1868.40 H1458.60 Z" fill="#3b9fd4"/>
<text transform="translate(1483.18,1911.15) scale(1.0277,1.0000)" font-size="73.0" fill="#3b9fd4" stroke="#3b9fd4" stroke-width="2.3">5</text>
<path d="M1372.90,637.80 A45.74,45.74 0 0 0 1372.90,708.80 L1380.00,708.80 A44.76,44.76 0 0 1 1380.00,637.80 Z" fill="#808080"/>
<path d="M1679.10,637.80 A46.44,46.44 0 0 1 1679.10,708.80 L1672.00,708.80 A45.40,45.40 0 0 0 1672.00,637.80 Z" fill="#808080"/>
<path d="M1126.90,1076.30 A44.77,44.77 0 0 0 1126.90,1147.00 L1134.00,1147.00 A43.86,43.86 0 0 1 1134.00,1076.30 Z" fill="#231815"/>
<path d="M1437.10,1076.30 A44.77,44.77 0 0 1 1437.10,1147.00 L1430.00,1147.00 A43.86,43.86 0 0 0 1430.00,1076.30 Z" fill="#231815"/>
<path d="M436.10,1623.30 A44.78,44.78 0 0 0 436.10,1693.70 L443.20,1693.70 A43.85,43.85 0 0 1 443.20,1623.30 Z" fill="#231815"/>
<path d="M737.10,1623.30 A44.46,44.46 0 0 1 737.10,1693.70 L730.00,1693.70 A43.56,43.56 0 0 0 730.00,1623.30 Z" fill="#231815"/>
<rect x="595" y="1880.4" width="31" height="8.6" fill="#3b9fd4"/>
<circle cx="693" cy="1873.6" r="10.1" fill="none" stroke="#3b9fd4" stroke-width="7.8"/>
<circle cx="858.3" cy="1873.6" r="10.1" fill="none" stroke="#3b9fd4" stroke-width="7.8"/>
<circle cx="1396.6" cy="1874.7" r="9.6" fill="none" stroke="#3b9fd4" stroke-width="7.4"/>
<circle cx="1542.5" cy="1874.7" r="9.6" fill="none" stroke="#3b9fd4" stroke-width="7.4"/>
<path d="M721.5,1893.5 C724,1880 733,1881.5 737,1886 C741,1890.5 748,1891.5 749.8,1881.5" fill="none" stroke="#3b9fd4" stroke-width="7.2"/>
<polygon points="1423.5,1924.3 1432.4,1924.3 1451,1844 1442.1,1844" fill="#3b9fd4"/>
</g>
<!--TEXT_END-->
</svg>
</body></html>
